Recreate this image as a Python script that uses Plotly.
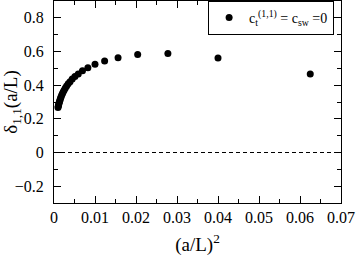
import plotly.graph_objects as go

L_values = list(range(4, 33))
x_vals = [1.0 / (L * L) for L in L_values]
delta_vals = [0.467, 0.561, 0.588, 0.582, 0.563, 0.543, 0.524, 0.504, 0.485,
              0.467, 0.451, 0.436, 0.421, 0.408, 0.395, 0.383, 0.372, 0.361,
              0.351, 0.341, 0.331, 0.322, 0.314, 0.305, 0.297, 0.290, 0.282,
              0.275, 0.268]
legend_label = "c<sub>t</sub><sup>(1,1)</sup> = c<sub>sw</sub> =0"

FONT = "Liberation Serif"

fig = go.Figure()
fig.add_trace(go.Scatter(x=x_vals, y=delta_vals, mode="markers",
                         marker=dict(color="black", size=7),
                         name=legend_label, showlegend=True))
fig.add_hline(y=0, line=dict(color="black", width=1, dash="4px,3px"))

axis_common = dict(showgrid=False, zeroline=False, showline=True, linecolor="black",
                   linewidth=1, mirror="ticks", ticks="inside", ticklen=7,
                   tickcolor="black", automargin=False,
                   tickfont=dict(family=FONT, size=16, color="black"))
fig.update_xaxes(range=[0, 0.07], dtick=0.01, tickformat="~g",
                 minor=dict(dtick=0.005, ticks="inside", ticklen=4, tickcolor="black"),
                 title=dict(text="(a/L)<sup>2</sup>", font=dict(family=FONT, size=19, color="black"),
                            standoff=12),
                 **axis_common)
fig.update_yaxes(range=[-0.3, 0.9], dtick=0.2, tickformat="~g",
                 minor=dict(dtick=0.1, ticks="inside", ticklen=4, tickcolor="black"),
                 ticklabelstandoff=6,
                 title=dict(text="δ<sub>1,1</sub>(a/L)", font=dict(family=FONT, size=19, color="black"),
                            standoff=6),
                 **axis_common)
fig.update_layout(width=357, height=258,
                  margin=dict(l=54, r=16, t=1, b=55),
                  paper_bgcolor="white", plot_bgcolor="white",
                  font=dict(family=FONT, color="black"),
                  legend=dict(x=0.976, y=1, xanchor="right", yanchor="top",
                              bordercolor="black", borderwidth=1, bgcolor="white",
                              font=dict(family=FONT, size=14, color="black")))
fig.write_html("out.html", config={"displayModeBar": False},
               post_script="document.body.style.margin='0';")
